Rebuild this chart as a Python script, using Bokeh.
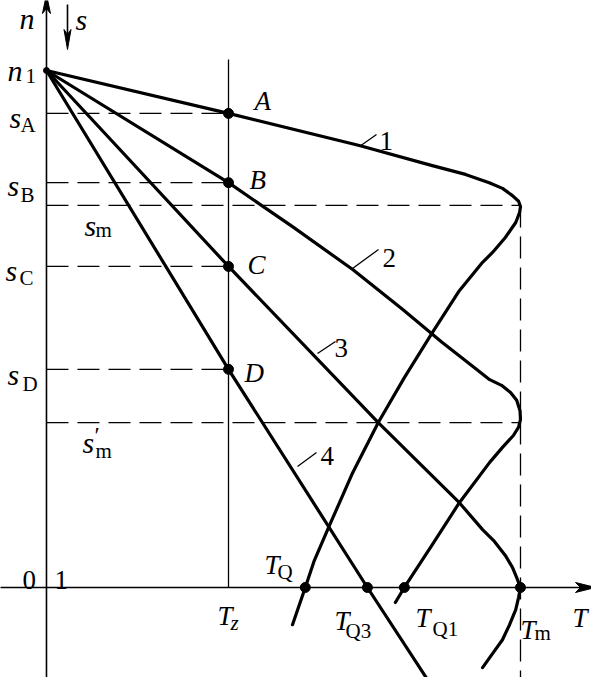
from bokeh.plotting import figure
from bokeh.models import Range1d, ColumnDataSource
from bokeh.core.properties import value
from bokeh.embed import file_html
from bokeh.resources import INLINE

# ---------------- data (T relative to Tm, n relative to n1) ----------------
T_z = 0.384
T_Q = 0.546
T_Q3 = 0.677
T_Q1 = 0.755
T_m = 1.0
n_1 = 1.0

point_names = ["A", "B", "C", "D"]
point_n = [0.917, 0.783, 0.621, 0.422]     # s_A, s_B, s_C, s_D levels
n_sm = 0.739                               # s_m level
n_sm2 = 0.319                              # s'_m level
start_T = [T_Q, T_Q3, T_Q1, T_m]           # points on the T axis (n = 0)

curve1_T = [0.000, 0.384, 0.660, 0.814, 0.884, 0.934, 0.962, 0.983, 0.996, 1.000,
            0.998, 0.990, 0.968, 0.941, 0.920, 0.871, 0.814, 0.755, 0.700, 0.646,
            0.597, 0.565, 0.546, 0.519]
curve1_n = [1.000, 0.917, 0.855, 0.816, 0.799, 0.783, 0.772, 0.758, 0.747, 0.737,
            0.725, 0.706, 0.677, 0.648, 0.629, 0.574, 0.493, 0.406, 0.319, 0.222,
            0.120, 0.052, 0.000, -0.072]

curve2_T = [0.000, 0.384, 0.519, 0.646, 0.751, 0.835, 0.899, 0.935, 0.960, 0.979,
            0.992, 0.999, 1.000, 0.996, 0.985, 0.962, 0.935, 0.871, 0.814, 0.755,
            0.736]
curve2_n = [1.000, 0.783, 0.698, 0.615, 0.538, 0.474, 0.428, 0.402, 0.391, 0.377,
            0.362, 0.342, 0.325, 0.310, 0.294, 0.271, 0.242, 0.164, 0.083, 0.000,
            -0.029]

curve3_T = [0.000, 0.384, 0.700, 0.871, 0.920, 0.945, 0.968, 0.983, 0.992, 1.000,
            0.996, 0.990, 0.977, 0.962, 0.941, 0.920]
curve3_n = [1.000, 0.621, 0.319, 0.164, 0.112, 0.089, 0.062, 0.039, 0.019, 0.000,
            -0.019, -0.043, -0.072, -0.101, -0.128, -0.155]

curve4_T = [0.000, 0.384, 0.677, 0.808]
curve4_n = [1.000, 0.422, 0.000, -0.184]

# ---------------- figure ----------------
W, H = 591, 677
X0, X1 = -0.0970, 1.1498
Y0, Y1 = -0.1741, 1.1354
PXT = W / (X1 - X0)
PXN = H / (Y1 - Y0)


def P(px, py):
    """page pixel position -> data coordinates (for annotations)"""
    return X0 + (px - 8) / PXT, Y1 - (py - 8) / PXN


p = figure(width=W, height=H, x_range=Range1d(X0, X1), y_range=Range1d(Y0, Y1),
           output_backend="svg", toolbar_location=None, min_border=0,
           x_axis_location=None, y_axis_location=None)
p.grid.visible = False
p.outline_line_color = None
p.background_fill_color = "white"

INK = "black"

# axes
ytop = P(54, 2)[1]
p.line([0, 0], [Y0 - 0.1, ytop - 12 / PXN], line_color=INK, line_width=1.6)
xr = P(603, 595)[0]
p.line([X0 - 0.1, xr - 12 / PXT], [0, 0], line_color=INK, line_width=1.6)
# arrowheads
p.patch([0, -4 / PXT, 0, 4 / PXT], [ytop, ytop - 19 / PXN, ytop - 14 / PXN, ytop - 19 / PXN],
        fill_color=INK, line_color=INK, line_width=1)
p.patch([xr, xr - 20 / PXT, xr - 15 / PXT, xr - 20 / PXT], [0, 5 / PXN, 0, -5 / PXN],
        fill_color=INK, line_color=INK, line_width=1)
# s arrow
sx_, s_top = P(75, 12)
_, s_tip = P(75, 57)
p.line([sx_, sx_], [s_top, s_tip + 12 / PXN], line_color=INK, line_width=1.6)
p.patch([sx_, sx_ - 3.5 / PXT, sx_, sx_ + 3.5 / PXT],
        [s_tip, s_tip + 20 / PXN, s_tip + 15 / PXN, s_tip + 20 / PXN],
        fill_color=INK, line_color=INK, line_width=1)

# T_z vertical line
p.line([T_z, T_z], [0, P(236, 67)[1]], line_color=INK, line_width=1.3)

# dashed lines
DASH = "22 9"
for nv in point_n:
    p.line([0, T_z], [nv, nv], line_color=INK, line_width=1.3, line_dash=DASH)
for nv in (n_sm, n_sm2):
    p.line([0, T_m], [nv, nv], line_color=INK, line_width=1.3, line_dash=DASH)
p.line([T_m, T_m], [n_sm, Y0 - 0.05], line_color=INK, line_width=1.3, line_dash=DASH)

# curves
for cx, cy in ((curve1_T, curve1_n), (curve2_T, curve2_n),
               (curve3_T, curve3_n), (curve4_T, curve4_n)):
    p.line(cx, cy, line_color=INK, line_width=3.2, line_join="round", line_cap="round")

# dots
p.scatter([T_z] * len(point_n), point_n, size=10, fill_color=INK, line_color=INK)
p.scatter(start_T, [0] * len(start_T), size=10, fill_color=INK, line_color=INK)
p.scatter([0], [n_1], size=6, fill_color=INK, line_color=INK)

# leader lines for curve numbers
leaders = [((367, 154), (384, 142)), ((360, 276), (386, 257)),
           ((325, 361), (343, 349)), ((305, 474), (324, 460))]
for a, b in leaders:
    (xa, ya), (xb, yb) = P(*a), P(*b)
    p.line([xa, xb], [ya, yb], line_color=INK, line_width=1.3)

# ---------------- texts (left, baseline in page pixels) ----------------
FONT = value("Liberation Serif")


def put(items, size, style):
    xs, ys, ts = [], [], []
    for t, px, py in items:
        x, y = P(px, py)
        xs.append(x)
        ys.append(y)
        ts.append(t)
    src = ColumnDataSource(dict(x=xs, y=ys, text=ts))
    p.text("x", "y", text="text", source=src, text_font=FONT,
           text_font_size=value(size), text_font_style=style,
           text_align="left", text_baseline="alphabetic", text_color=INK)


ns_italic = [("n", 27, 26), ("s", 83, 27), ("n", 15, 78),
             ("s", 17, 125), ("s", 15, 193), ("s", 92, 233), ("s", 13, 278),
             ("s", 15, 382), ("s", 90, 450)]
big_italic = [("A", 262, 108), ("B", 257, 187), ("C", 255, 272), ("D", 252, 380),
              ("T", 225, 623), ("T", 272, 572), ("T", 342, 628), ("T", 423, 625),
              ("T", 528, 637), ("T", 580, 625)]
big_regular = [("0", 30, 587), ("1", 62, 587),
               ("1", 387, 148), ("2", 390, 265), ("3", 342, 355), ("4", 328, 463)]
small_regular = [("1", 33, 83), ("A", 28, 132), ("B", 28, 202), ("m", 103, 237),
                 ("C", 27, 285), ("D", 30, 391), ("m", 103, 458),
                 ("Q", 285, 579), ("Q3", 353, 638), ("Q1", 440, 636), ("m", 542, 640)]
prime = [("′", 102, 442)]
small_italic = [("z", 238, 630)]

put(ns_italic, "30px", "italic")
put(big_italic, "27px", "italic")
put(big_regular, "27px", "normal")
put(small_regular, "21px", "normal")
put(prime, "24px", "normal")
put(small_italic, "21px", "italic")

open("out.html", "w").write(file_html(p, INLINE))
